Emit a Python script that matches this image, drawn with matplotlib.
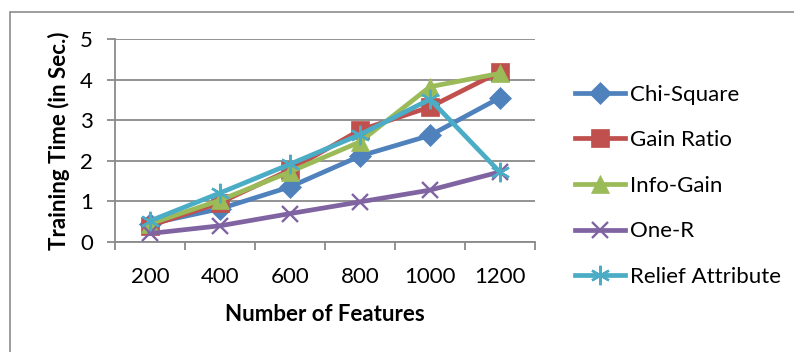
import numpy as np
import matplotlib.pyplot as plt
import matplotlib.patches as mpatches

plt.rcParams['font.family'] = ['Lato', 'DejaVu Sans']

# Training time (seconds) per feature-selection method
features = ['200', '400', '600', '800', '1000', '1200']
chi_square = [0.45, 0.82, 1.36, 2.12, 2.63, 3.56]
gain_ratio = [0.40, 0.97, 1.78, 2.76, 3.33, 4.20]
info_gain = [0.45, 1.03, 1.73, 2.47, 3.83, 4.16]
one_r = [0.21, 0.40, 0.70, 0.99, 1.28, 1.73]
relief = [0.52, 1.21, 1.92, 2.65, 3.52, 1.72]

series = [
    ('Chi-Square', chi_square, '#4F81BD', 'D', 11.5),
    ('Gain Ratio', gain_ratio, '#C0504D', 's', 12.5),
    ('Info-Gain', info_gain, '#9BBB59', '^', 13.5),
    ('One-R', one_r, '#8064A2', 'x', 12),
    ('Relief Attribute', relief, '#4BACC6', (6, 2, 0), 14),
]

fig = plt.figure(figsize=(7.94, 3.52), dpi=100)
ax = fig.add_axes([115 / 794, 1 - 242 / 352, 420 / 794, (242 - 39.3) / 352])

# outer chart frame (only left and top edges fall inside the image)
frame = mpatches.Rectangle((10 / 794, -0.2), 1.2, 1.2 - 12 / 352,
                           transform=fig.transFigure, fill=False,
                           edgecolor='#8C8C8C', linewidth=1.2, zorder=0)
fig.patches.append(frame)

x = np.arange(1, len(features) + 1)
for i, (name, vals, color, marker, ms) in enumerate(series):
    ax.plot(x, vals, color=color, linewidth=3.4, marker=marker,
            markersize=ms, markeredgewidth=1.7 if marker in ('x', (6, 2, 0)) else 0.5,
            markeredgecolor=color, markerfacecolor=color,
            label=name, zorder=3 + i, clip_on=False)

ax.set_xlim(0.5, len(features) + 0.5)
ax.set_ylim(0, 5)
ax.set_yticks(range(0, 6))
ax.set_xticks(np.arange(0.5, len(features) + 1, 1))
ax.set_xticklabels([])
ax.set_xticks(x, minor=True)
ax.set_xticklabels(features, minor=True)

ax.grid(axis='y', color='#8A8A8A', linewidth=1.3)
ax.set_axisbelow(True)
for side in ('top', 'right'):
    ax.spines[side].set_visible(False)
for side in ('left', 'bottom'):
    ax.spines[side].set_color('#8A8A8A')
    ax.spines[side].set_linewidth(1.3)

ax.tick_params(axis='y', which='major', length=6, width=1.3, color='#8A8A8A',
               pad=10, labelsize=16)
ax.tick_params(axis='x', which='major', length=6, width=1.3, color='#8A8A8A')
ax.tick_params(axis='x', which='minor', length=0, pad=18, labelsize=16)

ax.set_xlabel('Number of Features', fontsize=16, fontweight='bold', labelpad=12)
ax.set_ylabel('Training Time (in Sec.)', fontsize=16, fontweight='bold', labelpad=7)

ax.legend(loc='upper left', bbox_to_anchor=(1.074, 0.82), frameon=False,
          fontsize=16, handlelength=2.25, handletextpad=0.23,
          labelspacing=1.15, borderaxespad=0)

fig.savefig('out.png', dpi=100)
